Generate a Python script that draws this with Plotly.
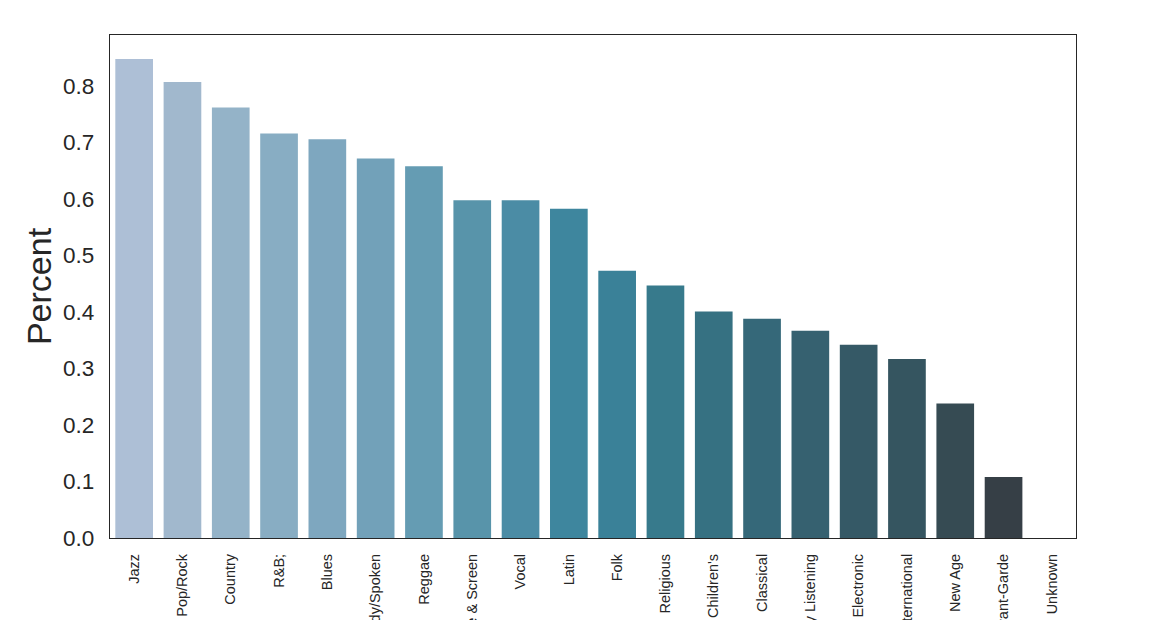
import plotly.graph_objects as go

genres = ["Jazz", "Pop/Rock", "Country", "R&B;", "Blues", "Comedy/Spoken", "Reggae",
          "Stage & Screen", "Vocal", "Latin", "Folk", "Religious", "Children's",
          "Classical", "Easy Listening", "Electronic", "International", "New Age",
          "Avant-Garde", "Unknown"]
percent = [0.848, 0.807, 0.762, 0.716, 0.706, 0.672, 0.658, 0.598, 0.598, 0.583,
           0.473, 0.447, 0.401, 0.388, 0.367, 0.342, 0.317, 0.238, 0.108, 0.0]
bar_colors = ["#adbfd6", "#a1b8cd", "#94b3c8", "#88adc3", "#7ea7bf", "#72a1b9", "#659cb3",
              "#5894aa", "#4b8ca5", "#3e869e", "#3a8198", "#377a8c", "#367182",
              "#356879", "#366170", "#355966", "#355560", "#364b53", "#363f46", "#333333"]
y_ticks = [0.0, 0.1, 0.2, 0.3, 0.4, 0.5, 0.6, 0.7, 0.8]

fig = go.Figure(go.Bar(x=genres, y=percent, marker=dict(color=bar_colors, line=dict(width=0)),
                       width=0.78))

fig.update_layout(
    width=1162, height=620,
    margin=dict(l=110, r=86, t=35, b=82),
    paper_bgcolor="white", plot_bgcolor="white",
    font=dict(family="Liberation Sans, Arial, sans-serif", color="#262626"),
    showlegend=False,
)
fig.update_xaxes(
    type="category", range=[-0.5, len(genres) - 0.5],
    tickangle=-90, tickfont=dict(size=14.5, color="#262626"),
    ticks="outside", ticklen=9, tickcolor="rgba(0,0,0,0)",
    showline=True, linecolor="#262626", linewidth=1.2, mirror=True,
    showgrid=False, automargin=False,
)
fig.update_yaxes(
    range=[0, 0.8904], tickvals=y_ticks, ticktext=[f"{v:.1f}" for v in y_ticks],
    tickfont=dict(size=22.5, color="#262626"),
    ticks="outside", ticklen=10, tickcolor="rgba(0,0,0,0)",
    showline=True, linecolor="#262626", linewidth=1.2, mirror=True,
    showgrid=False, zeroline=False, automargin=False,
    title=dict(text="Percent", font=dict(size=34, color="#262626"), standoff=1),
)

fig.write_html("out.html", config={"displayModeBar": False},
               post_script="document.body.style.margin='0px';")
